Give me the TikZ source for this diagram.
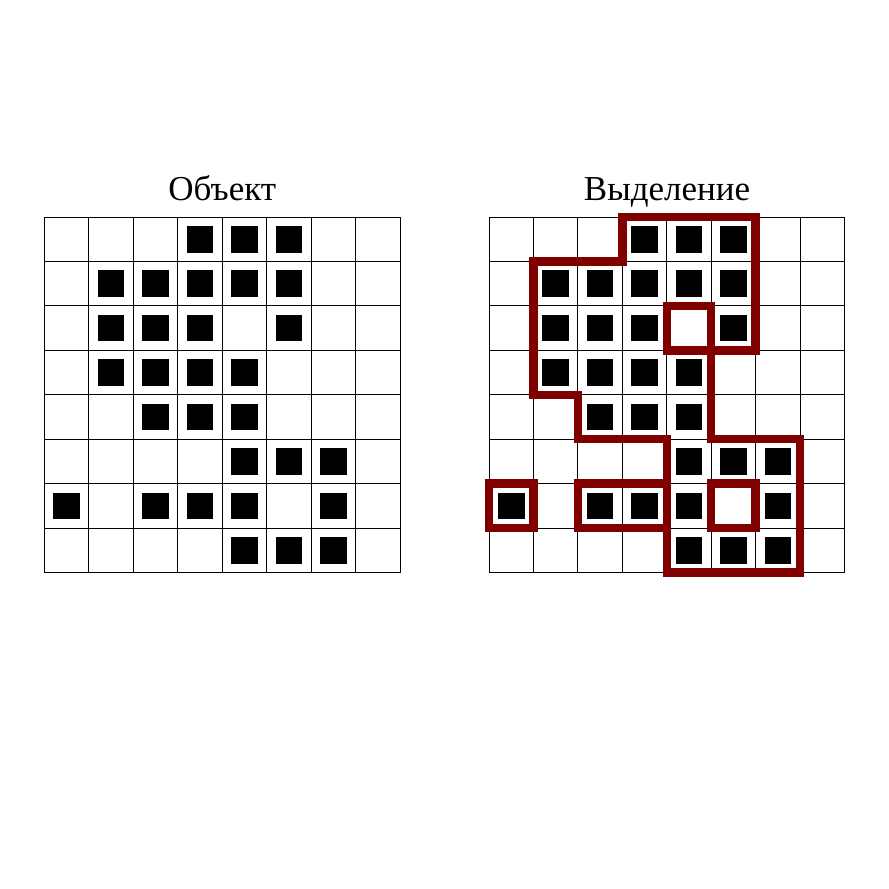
\documentclass[tikz,border=0pt]{standalone}
\usepackage{fontspec}
\setmainfont{Liberation Serif}
\definecolor{selred}{RGB}{128,0,0}
\begin{document}
\begin{tikzpicture}[x=1pt,y=-1pt,
  gridline/.style={line width=1pt,draw=black},
  cellfill/.style={fill=black},
  outline/.style={draw=selred,line width=8.5pt,line join=miter},
  title/.style={font=\fontsize{35}{40}\selectfont,anchor=base,inner sep=0pt}]
\useasboundingbox (0,0) rectangle (889,889);
\def\cells{3/0,4/0,5/0,1/1,2/1,3/1,4/1,5/1,1/2,2/2,3/2,5/2,1/3,2/3,3/3,4/3,2/4,3/4,4/4,4/5,5/5,6/5,0/6,2/6,3/6,4/6,6/6,4/7,5/7,6/7}
% left grid
\begin{scope}[shift={(44.5,217)},x=44.44pt,y=-44.44pt]
  \foreach \i in {0,...,8} {
    \draw[gridline] (\i,0) -- (\i,8);
    \draw[gridline] (0,\i) -- (8,\i);
  }
  \foreach \c/\r in \cells {
    \fill[cellfill] (\c+0.2,\r+0.2) rectangle (\c+0.8,\r+0.8);
  }
\end{scope}
% right grid
\begin{scope}[shift={(489,217)},x=44.44pt,y=-44.44pt]
  \foreach \i in {0,...,8} {
    \draw[gridline] (\i,0) -- (\i,8);
    \draw[gridline] (0,\i) -- (8,\i);
  }
  \foreach \c/\r in \cells {
    \fill[cellfill] (\c+0.2,\r+0.2) rectangle (\c+0.8,\r+0.8);
  }
  \draw[outline] (3,0) -- (6,0) -- (6,3) -- (5,3) -- (5,5) -- (7,5) -- (7,8) -- (4,8) -- (4,5) -- (2,5) -- (2,4) -- (1,4) -- (1,1) -- (3,1) -- cycle;
  \draw[outline] (4,2) rectangle (5,3);
  \draw[outline] (5,6) rectangle (6,7);
  \draw[outline] (2,6) rectangle (4,7);
  \draw[outline] (0,6) rectangle (1,7);
\end{scope}
\node[title] (t1) at (222.3,200) {Объект};
\node[title] (t2) at (667,200) {Выделение};
\end{tikzpicture}
\end{document}
